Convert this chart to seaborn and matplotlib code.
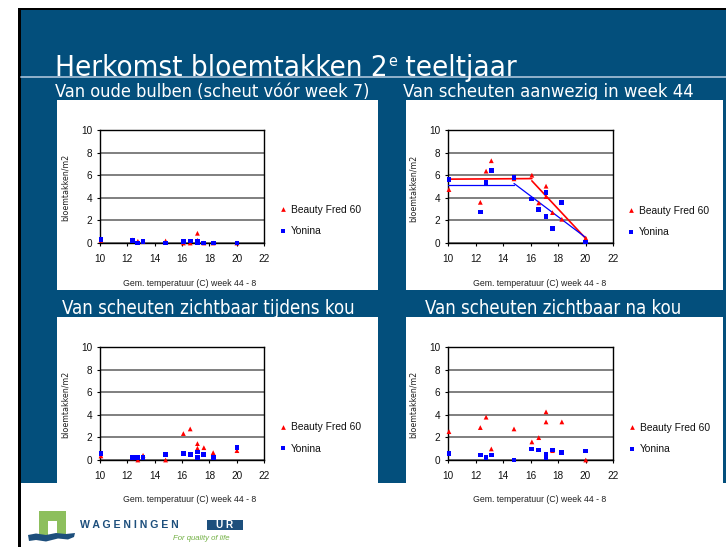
import numpy as np
import pandas as pd
import matplotlib
matplotlib.use("Agg")
import matplotlib.pyplot as plt
import seaborn as sns
from matplotlib.patches import Rectangle, Polygon
from matplotlib.lines import Line2D

# ---------------- data ----------------
temps = [10.07, 12.35, 12.77, 13.15, 14.8, 16.1, 16.6, 17.13, 17.13, 17.6, 18.28, 20.02]
varieties = ["Beauty Fred 60", "Yonina"]

oude_beauty = [0.24, 0.27, 0.15, 0.12, 0.18, 0.0, 0.0, 0.86, 0.24, 0.0, 0.0, 0.0]
oude_yonina = [0.30, 0.24, 0.0, 0.12, 0.0, 0.12, 0.18, 0.18, 0.0, 0.0, 0.0, 0.0]
aanw_beauty = [4.73, 3.60, 6.36, 7.28, 5.68, 6.00, 3.55, 5.03, 4.11, 2.69, 2.10, 0.44]
aanw_yonina = [5.59, 2.75, 5.33, 6.39, 5.77, 3.90, 2.99, 4.47, 2.34, 1.30, 3.61, 0.09]
tijdens_beauty = [0.36, 0.20, 0.0, 0.41, 0.0, 2.34, 2.75, 1.45, 1.04, 1.09, 0.65, 0.83]
tijdens_yonina = [0.59, 0.24, 0.24, 0.24, 0.47, 0.56, 0.47, 0.71, 0.24, 0.47, 0.24, 1.12]
na_beauty = [2.51, 2.87, 3.79, 0.98, 2.75, 1.60, 1.98, 4.26, 3.37, 0.83, 3.37, 0.0]
na_yonina = [0.59, 0.44, 0.24, 0.44, 0.0, 0.98, 0.89, 0.47, 0.24, 0.89, 0.68, 0.80]

# piecewise trend lines (panel "aanwezig in week 44")
beauty_trend_x = [[10.0, 16.1], [16.1, 20.03]]
beauty_trend_y = [[5.65, 5.70], [5.50, 0.38]]
yonina_trend_x = [[10.0, 14.8], [14.8, 20.03]]
yonina_trend_y = [[5.12, 5.12], [5.27, 0.47]]

title_main = "Herkomst bloemtakken 2"
title_sup = "e"
title_end = " teeltjaar"
subtitles = ["Van oude bulben (scheut vóór week 7)",
             "Van scheuten aanwezig in week 44",
             "Van scheuten zichtbaar tijdens kou",
             "Van scheuten zichtbaar na kou"]
ylabel = "bloemtakken/m2"
xlabel = "Gem. temperatuur (C) week 44 - 8"
xticks = [10, 12, 14, 16, 18, 20, 22]
yticks = [0, 2, 4, 6, 8, 10]

# ---------------- style ----------------
sns.set_theme(style="white")
plt.rcParams["font.family"] = ["Liberation Sans", "DejaVu Sans"]
NARROW = dict(family=["DejaVu Sans"], fontstretch="condensed")

W, H = 726, 547
fig = plt.figure(figsize=(W / 100, H / 100), dpi=100)
fig.patch.set_facecolor("white")
renderer = fig.canvas.get_renderer()

def fx(x):
    return x / W

def fy(y):
    return 1 - y / H

def frect(x0, y0, x1, y1, **kw):
    fig.add_artist(Rectangle((fx(x0), fy(y1)), fx(x1) - fx(x0), fy(y0) - fy(y1),
                             transform=fig.transFigure, **kw))

BLUE = "#034f7c"
# slide frame
frect(17.5, 7.5, 727, 548, facecolor="black", edgecolor="none", zorder=0)
frect(21, 10, 727, 548, facecolor="white", edgecolor="none", zorder=0)
frect(21, 10, 726, 483, facecolor=BLUE, edgecolor="none", zorder=0)
fig.add_artist(Line2D([fx(21), fx(726)], [fy(76.5), fy(76.5)], transform=fig.transFigure,
                      color="#9dbad2", lw=1.3, zorder=1))
frect(57, 100, 378, 290, facecolor="white", edgecolor="none", zorder=1)
frect(406, 100, 723, 290, facecolor="white", edgecolor="none", zorder=1)
frect(57, 317, 378, 515, facecolor="white", edgecolor="none", zorder=1)
frect(406, 317, 723, 515, facecolor="white", edgecolor="none", zorder=1)

# title with superscript, fitted to its width in the slide
def place_title(size):
    big, small = size, size * 0.55
    a = fig.text(fx(55), fy(76), title_main, color="white", fontsize=big,
                 va="baseline", ha="left", zorder=3, **NARROW)
    bx = a.get_window_extent(renderer).x1
    b = fig.text(bx / W + 1 / W, fy(76 - size * 0.47), title_sup, color="white",
                 fontsize=small, va="baseline", ha="left", zorder=3, **NARROW)
    cx = b.get_window_extent(renderer).x1
    c = fig.text(cx / W, fy(76), title_end, color="white", fontsize=big,
                 va="baseline", ha="left", zorder=3, **NARROW)
    return [a, b, c], c.get_window_extent(renderer).x1 - 55

parts, tw = place_title(25.0)
for p_ in parts:
    p_.remove()
size_fit = 25.0 * 463 / tw
place_title(size_fit)

sub_pos = [(55, 97, 315), (403, 97, 291), (62, 314, 293), (425, 314, 257)]
for (sx, sy, sw), s in zip(sub_pos, subtitles):
    t = fig.text(fx(sx), fy(sy), s, color="white", fontsize=13, va="baseline",
                 ha="left", zorder=3, **NARROW)
    w = t.get_window_extent(renderer).width
    t.set_fontsize(13 * sw / w)

# ---------------- charts ----------------
panels = [
    dict(rect=(100, 130, 264, 243), b=oude_beauty, y=oude_yonina, ylab=(65, 187),
         xlab=(190, 283), leg=(280, 220.5)),
    dict(rect=(448, 130, 613, 243), b=aanw_beauty, y=aanw_yonina, ylab=(413, 188),
         xlab=(540, 283), leg=(628, 221.5)),
    dict(rect=(100, 347, 264, 460), b=tijdens_beauty, y=tijdens_yonina, ylab=(65, 404),
         xlab=(190, 500), leg=(280, 438)),
    dict(rect=(448, 347, 613, 460), b=na_beauty, y=na_yonina, ylab=(413, 404),
         xlab=(540, 500), leg=(629, 438.5)),
]

palette = {"Beauty Fred 60": "#ff0000", "Yonina": "#0000ff"}
markers = {"Beauty Fred 60": "^", "Yonina": "s"}

for i, p in enumerate(panels):
    x0, y0, x1, y1 = p["rect"]
    ax = fig.add_axes([fx(x0), fy(y1), fx(x1) - fx(x0), fy(y0) - fy(y1)], zorder=2)
    df = pd.DataFrame({
        "temp": temps * 2,
        "val": list(p["b"]) + list(p["y"]),
        "ras": [varieties[0]] * len(temps) + [varieties[1]] * len(temps),
    })
    sns.scatterplot(data=df, x="temp", y="val", hue="ras", style="ras",
                    palette=palette, markers=markers, s=12, linewidth=0,
                    ax=ax, clip_on=False, zorder=4)
    if i == 1:
        for xs, ys in zip(beauty_trend_x, beauty_trend_y):
            ax.plot(xs, ys, color="#ff0000", lw=1.2, zorder=3)
        for xs, ys in zip(yonina_trend_x, yonina_trend_y):
            ax.plot(xs, ys, color="#0000ff", lw=0.9, zorder=3)
    ax.set_xlim(10, 22)
    ax.set_ylim(0, 10)
    ax.set_xticks(xticks)
    ax.set_yticks(yticks)
    ax.set_xticklabels([str(t) for t in xticks])
    ax.set_yticklabels([str(t) for t in yticks])
    ax.set_xlabel("")
    ax.set_ylabel("")
    ax.set_facecolor("white")
    ax.set_axisbelow(True)
    ax.yaxis.grid(True, color="#7f7f7f", lw=1.4)
    ax.xaxis.grid(False)
    for sp in ax.spines.values():
        sp.set_visible(True)
        sp.set_color("black")
        sp.set_linewidth(1.0)
    ax.tick_params(axis="both", which="major", direction="out", length=2.5, width=0.8,
                   color="black", labelsize=7.2, labelcolor="#111111",
                   bottom=True, left=True)
    ax.tick_params(axis="x", pad=5.5)
    ax.tick_params(axis="y", pad=3)
    fig.text(fx(p["ylab"][0]), fy(p["ylab"][1]), ylabel, rotation=90, fontsize=6.4,
             ha="center", va="center", color="#222222", zorder=3, **NARROW)
    fig.text(fx(p["xlab"][0]), fy(p["xlab"][1]), xlabel, fontsize=6.3,
             ha="center", va="center", color="#222222", zorder=3)
    lg = ax.legend(loc="center left", bbox_to_anchor=(fx(p["leg"][0]), fy(p["leg"][1])),
                   bbox_transform=fig.transFigure, frameon=False, fontsize=7.4,
                   handlelength=0.6, handletextpad=0.5, labelspacing=1.1,
                   borderpad=0, borderaxespad=0, title=None)
    for h in lg.legend_handles:
        try:
            h.set_markersize(3.4)
        except AttributeError:
            h.set_sizes([11])
    for t in lg.get_texts():
        t.set_color("#111111")

# ---------------- logo ----------------
frect(39, 511, 66, 535, facecolor="#8dbf5d", edgecolor="none", zorder=3)
frect(48, 521, 57, 535.5, facecolor="white", edgecolor="none", zorder=3)
wave = [(28, 535), (36, 533.5), (46, 535), (56, 533), (66, 534), (75, 533),
        (74, 537), (68, 539.5), (58, 538.5), (46, 541.5), (36, 540), (29, 541)]
fig.add_artist(Polygon([(fx(a), fy(b)) for a, b in wave], closed=True,
                       transform=fig.transFigure, facecolor="#1d4f7c",
                       edgecolor="none", zorder=4))
fig.text(fx(80), fy(525), "W A G E N I N G E N", fontsize=7.6, color="#1d4f7c",
         fontweight="bold", ha="left", va="center", zorder=3)
frect(207, 520, 243, 530, facecolor="#1d4f7c", edgecolor="none", zorder=3)
fig.text(fx(225), fy(525.2), "U R", fontsize=7.2, color="white", fontweight="bold",
         ha="center", va="center", zorder=4)
fig.text(fx(173), fy(538), "For quality of life", fontsize=5.6, color="#72b043",
         style="italic", ha="left", va="center", zorder=3)

fig.savefig("out.png", dpi=100, facecolor="white")
